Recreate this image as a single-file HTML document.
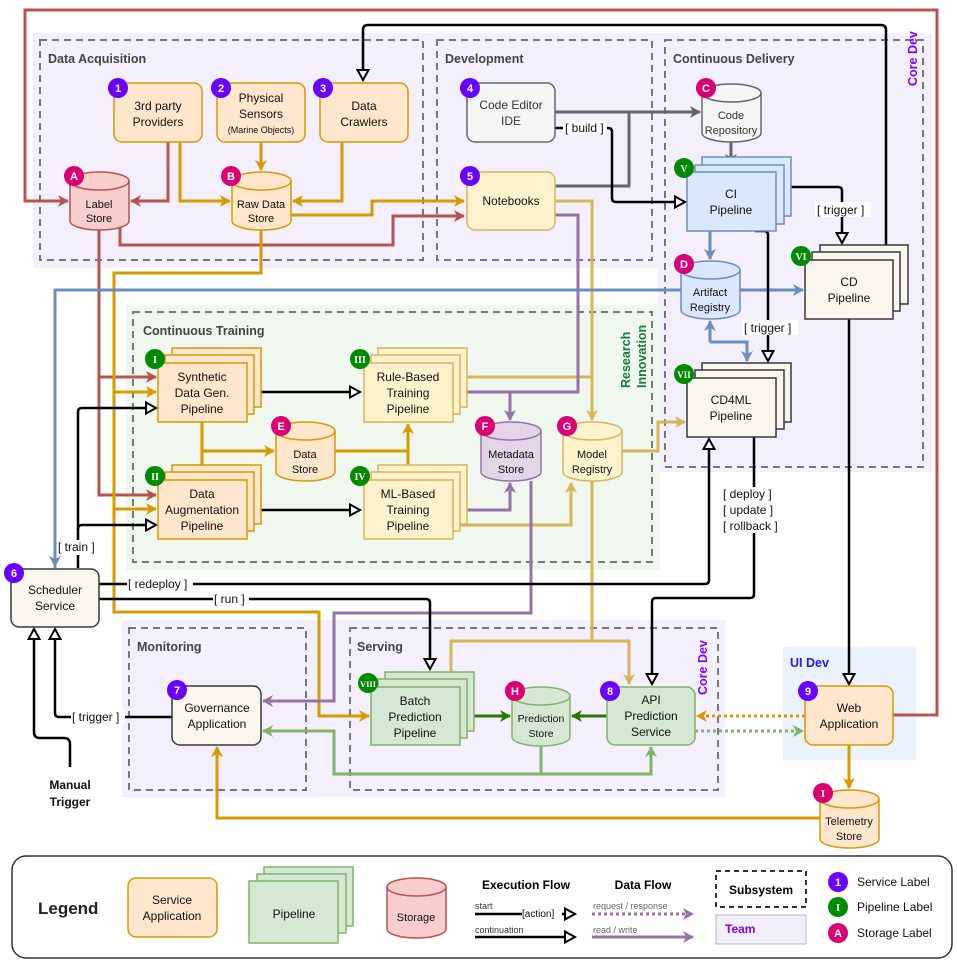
<!DOCTYPE html>
<html><head><meta charset="utf-8"><style>
html,body{margin:0;padding:0;background:#fff}
svg{display:block;font-family:"Liberation Sans",sans-serif}
.t{font-size:12px;fill:#111;text-anchor:middle}
.h{font-size:12.5px;font-weight:bold;fill:#444}
.lb{font-size:12px;fill:#111}
.bw{font-size:11px;font-weight:bold;fill:#fff;text-anchor:middle}
</style></head><body>
<svg width="957" height="964" viewBox="0 0 957 964" xmlns="http://www.w3.org/2000/svg">
<defs>
<marker id="aR" markerWidth="12" markerHeight="12" refX="10" refY="6" orient="auto" markerUnits="userSpaceOnUse"><path d="M0,0 L11,6 L0,12 L3,6 z" fill="#b85450"/></marker>
<marker id="aO" markerWidth="12" markerHeight="12" refX="10" refY="6" orient="auto" markerUnits="userSpaceOnUse"><path d="M0,0 L11,6 L0,12 L3,6 z" fill="#d79b00"/></marker>
<marker id="aY" markerWidth="12" markerHeight="12" refX="10" refY="6" orient="auto" markerUnits="userSpaceOnUse"><path d="M0,0 L11,6 L0,12 L3,6 z" fill="#d6b656"/></marker>
<marker id="aP" markerWidth="12" markerHeight="12" refX="10" refY="6" orient="auto" markerUnits="userSpaceOnUse"><path d="M0,0 L11,6 L0,12 L3,6 z" fill="#9673a6"/></marker>
<marker id="aB" markerWidth="12" markerHeight="12" refX="10" refY="6" orient="auto" markerUnits="userSpaceOnUse"><path d="M0,0 L11,6 L0,12 L3,6 z" fill="#6c8ebf"/></marker>
<marker id="aG" markerWidth="12" markerHeight="12" refX="10" refY="6" orient="auto" markerUnits="userSpaceOnUse"><path d="M0,0 L11,6 L0,12 L3,6 z" fill="#666"/></marker>
<marker id="aD" markerWidth="12" markerHeight="12" refX="10" refY="6" orient="auto" markerUnits="userSpaceOnUse"><path d="M0,0 L11,6 L0,12 L3,6 z" fill="#2d7600"/></marker>
<marker id="aL" markerWidth="12" markerHeight="12" refX="10" refY="6" orient="auto" markerUnits="userSpaceOnUse"><path d="M0,0 L11,6 L0,12 L3,6 z" fill="#82b366"/></marker>
<marker id="aK" markerWidth="14" markerHeight="14" refX="11" refY="7" orient="auto" markerUnits="userSpaceOnUse"><path d="M1,1.5 L11,7 L1,12.5 z" fill="#fff" stroke="#000" stroke-width="2"/></marker>
</defs>

<rect x="33" y="33" width="627" height="235" fill="#f3effc"/>
<rect x="658" y="33" width="274" height="439" fill="#f3effc"/>
<rect x="126" y="305" width="534" height="265" fill="#f0f7ee"/>
<rect x="122" y="620" width="603" height="177" fill="#f3effc"/>
<rect x="783" y="647" width="133" height="113" fill="#eaf3fd"/>

<g fill="none" stroke="#777" stroke-width="2" stroke-dasharray="7,5">
<rect x="40" y="40" width="383" height="220"/>
<rect x="437" y="40" width="215" height="220"/>
<rect x="665" y="40" width="258" height="427"/>
<rect x="133" y="312" width="519" height="250"/>
<rect x="129" y="628" width="177" height="162"/>
<rect x="350" y="628" width="368" height="162"/>
</g>
<text class="h" x="48" y="63">Data Acquisition</text>
<text class="h" x="445" y="63">Development</text>
<text class="h" x="673" y="63">Continuous Delivery</text>
<text class="h" x="143" y="335">Continuous Training</text>
<text class="h" x="137" y="651">Monitoring</text>
<text class="h" x="357" y="651">Serving</text>
<text transform="translate(917,86) rotate(-90)" style="font-size:12.5px;font-weight:bold;fill:#8000ff">Core Dev</text>
<text transform="translate(707,695) rotate(-90)" style="font-size:12.5px;font-weight:bold;fill:#8000ff">Core Dev</text>
<text transform="translate(630,388) rotate(-90)" style="font-size:12.5px;font-weight:bold;fill:#1a7a3a">Research</text>
<text transform="translate(646,388) rotate(-90)" style="font-size:12.5px;font-weight:bold;fill:#1a7a3a">Innovation</text>
<text x="790" y="667" style="font-size:12.5px;font-weight:bold;fill:#1a1aff">UI Dev</text>

<g fill="none" stroke-width="3">
<path d="M891,715 H937 V10 H25 V201 H68" stroke="#b85450" marker-end="url(#aR)"/>
<path d="M168,142 V201 H131" stroke="#b85450" marker-end="url(#aR)"/>
<path d="M99,230 V495 H156" stroke="#b85450" marker-end="url(#aR)"/>
<path d="M99,377 H156" stroke="#b85450" marker-end="url(#aR)"/>
<path d="M120,228 V245 H393 V216 H464" stroke="#b85450" marker-end="url(#aR)"/>
<path d="M180,142 V201 H230" stroke="#d79b00" marker-end="url(#aO)"/>
<path d="M261,142 V170" stroke="#d79b00" marker-end="url(#aO)"/>
<path d="M342,142 V201 H293" stroke="#d79b00" marker-end="url(#aO)"/>
<path d="M291,215 H372 V201 H464" stroke="#d79b00" marker-end="url(#aO)"/>
<path d="M261,230 V273 H114 V612 H319 V716 H369" stroke="#d79b00" marker-end="url(#aO)"/>
<path d="M114,392 H156" stroke="#d79b00" marker-end="url(#aO)"/>
<path d="M114,509 H156" stroke="#d79b00" marker-end="url(#aO)"/>
<path d="M202,422 V480" stroke="#d79b00"/>
<path d="M202,451 H274" stroke="#d79b00" marker-end="url(#aO)"/>
<path d="M335,451 H408" stroke="#d79b00"/>
<path d="M408,451 V424" stroke="#d79b00" marker-end="url(#aO)"/>
<path d="M408,451 V478" stroke="#d79b00" marker-end="url(#aO)"/>
<path d="M849,745 V788" stroke="#d79b00" marker-end="url(#aO)"/>
<path d="M822,818 H217 V747" stroke="#d79b00" marker-end="url(#aO)"/>
<path d="M805,716 H697" stroke="#d79b00" stroke-dasharray="3,3" marker-end="url(#aO)"/>
<path d="M695,731 H803" stroke="#82b366" stroke-dasharray="3,3" marker-end="url(#aL)"/>
<path d="M555,201 H592 V420" stroke="#d6b656" marker-end="url(#aY)"/>
<path d="M452,377 H592" stroke="#d6b656"/>
<path d="M452,525 H571 V483" stroke="#d6b656" marker-end="url(#aY)"/>
<path d="M592,481 V641 H451 V684" stroke="#d6b656" marker-end="url(#aY)"/>
<path d="M592,641 H629 V684" stroke="#d6b656" marker-end="url(#aY)"/>
<path d="M622,451 H658 V422 H685" stroke="#d6b656" marker-end="url(#aY)"/>
<path d="M555,215 H578 V392 H452" stroke="#9673a6"/>
<path d="M510,392 V420" stroke="#9673a6" marker-end="url(#aP)"/>
<path d="M452,510 H510 V483" stroke="#9673a6" marker-end="url(#aP)"/>
<path d="M531,481 V613 H334 V701 H263" stroke="#9673a6" marker-end="url(#aP)"/>
<path d="M555,112 H700" stroke="#666" marker-end="url(#aG)"/>
<path d="M555,186 H629 V112" stroke="#666"/>
<path d="M731,142 V164" stroke="#666" marker-end="url(#aG)"/>
<path d="M710,231 V259" stroke="#6c8ebf" marker-end="url(#aB)"/>
<path d="M55,568 V290 H803" stroke="#6c8ebf" marker-end="url(#aB)"/>
<path d="M55,290 V566" stroke="#6c8ebf" marker-end="url(#aB)"/>
<path d="M710,342 V321" stroke="#6c8ebf" marker-end="url(#aB)"/>
<path d="M710,342 H747 V361" stroke="#6c8ebf" marker-end="url(#aB)"/>
<path d="M460,716 H510" stroke="#2d7600" marker-end="url(#aD)"/>
<path d="M607,716 H572" stroke="#2d7600" marker-end="url(#aD)"/>
<path d="M541,746 V774" stroke="#82b366"/>
<path d="M651,774 H334 V731 H263" stroke="#82b366" marker-end="url(#aL)"/>
<path d="M334,774 H651 V747" stroke="#82b366" marker-end="url(#aL)"/>
</g>
<g fill="none" stroke="#000" stroke-width="2.5">
<path d="M886,245 V30 Q886,25 881,25 H368 Q363,25 363,30 V80" marker-end="url(#aK)"/>
<path d="M555,128 H608 Q612,128 612,132 V198 Q612,202 616,202 H685" marker-end="url(#aK)"/>
<path d="M776,187 H838 Q842,187 842,191 V243" marker-end="url(#aK)"/>
<path d="M755,231 H764 Q768,231 768,235 V361" marker-end="url(#aK)"/>
<path d="M849,319 V684" marker-end="url(#aK)"/>
<path d="M754,437 V594 Q754,598 750,598 H656 Q652,598 652,602 V684" marker-end="url(#aK)"/>
<path d="M99,584 H705 Q709,584 709,580 V439" marker-end="url(#aK)"/>
<path d="M99,599 H426 Q430,599 430,603 V669" marker-end="url(#aK)"/>
<path d="M78,568 V412 Q78,408 82,408 H156" marker-end="url(#aK)"/>
<path d="M78,529 Q78,525 82,525 H156"  marker-end="url(#aK)"/>
<path d="M247,392 H360" marker-end="url(#aK)"/>
<path d="M247,510 H360" marker-end="url(#aK)"/>
<path d="M172,717 H59 Q55,717 55,713 V629" marker-end="url(#aK)"/>
<path d="M70,767 V744 Q70,738 64,738 H40 Q34,738 34,732 V629" marker-end="url(#aK)"/>
</g>
<g class="lb">
<rect x="563" y="120" width="44" height="15" fill="#fff"/><text x="565" y="132">[ build ]</text>
<rect x="815" y="202" width="56" height="15" fill="#fff"/><text x="817" y="214">[ trigger ]</text>
<rect x="742" y="320" width="56" height="15" fill="#fff"/><text x="744" y="332">[ trigger ]</text>
<rect x="722" y="487" width="64" height="46" fill="#fff"/>
<text x="723" y="498">[  deploy  ]</text><text x="723" y="514">[  update  ]</text><text x="723" y="530">[ rollback ]</text>
<rect x="127" y="577" width="66" height="15" fill="#fff"/><text x="128" y="588">[ redeploy ]</text>
<rect x="213" y="592" width="36" height="15" fill="#fff"/><text x="214" y="603">[ run ]</text>
<rect x="57" y="540" width="42" height="15" fill="#fff"/><text x="58" y="551">[ train ]</text>
<rect x="71" y="710" width="54" height="15" fill="#fff"/><text x="72" y="721">[ trigger ]</text>
<text x="70" y="789" style="font-weight:bold;text-anchor:middle">Manual</text>
<text x="70" y="806" style="font-weight:bold;text-anchor:middle">Trigger</text>
</g>

<g stroke-width="1.5">
<rect x="114" y="83" width="88" height="59" rx="8" fill="#ffe6cc" stroke="#d79b00"/>
<rect x="217" y="83" width="88" height="59" rx="8" fill="#ffe6cc" stroke="#d79b00"/>
<rect x="320" y="83" width="88" height="59" rx="8" fill="#ffe6cc" stroke="#d79b00"/>
<rect x="467" y="83" width="88" height="59" rx="8" fill="#f5f5f5" stroke="#666"/>
<rect x="467" y="172" width="88" height="58" rx="8" fill="#fff2cc" stroke="#d6b656"/>
<rect x="11" y="569" width="88" height="58" rx="8" fill="#f9f7ed" stroke="#36393d"/>
<rect x="172" y="686" width="89" height="59" rx="8" fill="#f9f7ed" stroke="#36393d"/>
<rect x="607" y="687" width="88" height="58" rx="8" fill="#d5e8d4" stroke="#82b366"/>
<rect x="805" y="686" width="88" height="59" rx="8" fill="#ffe6cc" stroke="#d79b00"/>
</g>
<text class="t" x="158" y="110">3rd party</text><text class="t" x="158" y="126">Providers</text>
<text class="t" x="261" y="102">Physical</text><text class="t" x="261" y="118">Sensors</text>
<text class="t" x="261" y="133" style="font-size:9px">(Marine Objects)</text>
<text class="t" x="364" y="110">Data</text><text class="t" x="364" y="126">Crawlers</text>
<text class="t" x="511" y="109" style="fill:#333">Code Editor</text><text class="t" x="511" y="125" style="fill:#333">IDE</text>
<text class="t" x="511" y="205">Notebooks</text>
<text class="t" x="55" y="594">Scheduler</text><text class="t" x="55" y="610">Service</text>
<text class="t" x="217" y="712">Governance</text><text class="t" x="217" y="728">Application</text>
<text class="t" x="651" y="704">API</text><text class="t" x="651" y="720">Prediction</text><text class="t" x="651" y="736">Service</text>
<text class="t" x="849" y="712">Web</text><text class="t" x="849" y="728">Application</text>

<g stroke-width="1.5">
<g fill="#ffe6cc" stroke="#d79b00">
<rect x="172" y="348" width="89" height="59"/><rect x="165" y="355" width="89" height="59"/><rect x="158" y="363" width="89" height="59"/>
<rect x="172" y="465" width="89" height="59"/><rect x="165" y="472" width="89" height="59"/><rect x="158" y="480" width="89" height="59"/>
</g>
<g fill="#fff2cc" stroke="#d6b656">
<rect x="378" y="348" width="89" height="59"/><rect x="371" y="355" width="89" height="59"/><rect x="364" y="363" width="89" height="59"/>
<rect x="378" y="465" width="89" height="59"/><rect x="371" y="472" width="89" height="59"/><rect x="364" y="480" width="89" height="59"/>
</g>
<g fill="#dae8fc" stroke="#6c8ebf">
<rect x="702" y="157" width="89" height="59"/><rect x="695" y="165" width="89" height="59"/><rect x="687" y="172" width="89" height="59"/>
</g>
<g fill="#f9f7ed" stroke="#36393d">
<rect x="820" y="245" width="88" height="59"/><rect x="812" y="252" width="88" height="59"/><rect x="805" y="260" width="88" height="59"/>
<rect x="702" y="363" width="89" height="59"/><rect x="695" y="370" width="89" height="59"/><rect x="687" y="378" width="89" height="59"/>
</g>
<g fill="#d5e8d4" stroke="#82b366">
<rect x="385" y="672" width="89" height="59"/><rect x="378" y="679" width="89" height="59"/><rect x="371" y="687" width="89" height="58"/>
</g>
</g>
<text class="t" x="202" y="381">Synthetic</text><text class="t" x="202" y="397">Data Gen.</text><text class="t" x="202" y="413">Pipeline</text>
<text class="t" x="202" y="498">Data</text><text class="t" x="202" y="514">Augmentation</text><text class="t" x="202" y="530">Pipeline</text>
<text class="t" x="408" y="381">Rule-Based</text><text class="t" x="408" y="397">Training</text><text class="t" x="408" y="413">Pipeline</text>
<text class="t" x="408" y="498">ML-Based</text><text class="t" x="408" y="514">Training</text><text class="t" x="408" y="530">Pipeline</text>
<text class="t" x="731" y="198">CI</text><text class="t" x="731" y="214">Pipeline</text>
<text class="t" x="849" y="286">CD</text><text class="t" x="849" y="302">Pipeline</text>
<text class="t" x="731" y="404">CD4ML</text><text class="t" x="731" y="420">Pipeline</text>
<text class="t" x="415" y="705">Batch</text><text class="t" x="415" y="721">Prediction</text><text class="t" x="415" y="737">Pipeline</text>

<g stroke-width="1.5">
<g fill="#f8cecc" stroke="#b85450"><path d="M70,181 a29.5,9 0 0 1 59,0 v40 a29.5,9 0 0 1 -59,0 z"/><path d="M70,181 a29.5,9 0 0 0 59,0" fill="none"/></g>
<g fill="#ffe6cc" stroke="#d79b00"><path d="M232,181 a29.5,9 0 0 1 59,0 v40 a29.5,9 0 0 1 -59,0 z"/><path d="M232,181 a29.5,9 0 0 0 59,0" fill="none"/></g>
<g fill="#f5f5f5" stroke="#666"><path d="M702,93 a29.5,9 0 0 1 59,0 v40 a29.5,9 0 0 1 -59,0 z"/><path d="M702,93 a29.5,9 0 0 0 59,0" fill="none"/></g>
<g fill="#dae8fc" stroke="#6c8ebf"><path d="M681,270 a29.5,9 0 0 1 59,0 v40 a29.5,9 0 0 1 -59,0 z"/><path d="M681,270 a29.5,9 0 0 0 59,0" fill="none"/></g>
<g fill="#ffe6cc" stroke="#d79b00"><path d="M276,431 a29.5,9 0 0 1 59,0 v41 a29.5,9 0 0 1 -59,0 z"/><path d="M276,431 a29.5,9 0 0 0 59,0" fill="none"/></g>
<g fill="#e1d5e7" stroke="#9673a6"><path d="M481,431 a30,9 0 0 1 60,0 v41 a30,9 0 0 1 -60,0 z"/><path d="M481,431 a30,9 0 0 0 60,0" fill="none"/></g>
<g fill="#fff2cc" stroke="#d6b656"><path d="M563,431 a29.5,9 0 0 1 59,0 v41 a29.5,9 0 0 1 -59,0 z"/><path d="M563,431 a29.5,9 0 0 0 59,0" fill="none"/></g>
<g fill="#d5e8d4" stroke="#82b366"><path d="M512,696 a29,9 0 0 1 58,0 v41 a29,9 0 0 1 -58,0 z"/><path d="M512,696 a29,9 0 0 0 58,0" fill="none"/></g>
<g fill="#ffe6cc" stroke="#d79b00"><path d="M820,799 a29.5,9 0 0 1 59,0 v40 a29.5,9 0 0 1 -59,0 z"/><path d="M820,799 a29.5,9 0 0 0 59,0" fill="none"/></g>
</g>
<g style="font-size:11px;fill:#111;text-anchor:middle">
<text x="99" y="208">Label</text><text x="99" y="222">Store</text>
<text x="261" y="208">Raw Data</text><text x="261" y="222">Store</text>
<text x="731" y="119" style="fill:#333">Code</text><text x="731" y="134" style="fill:#333">Repository</text>
<text x="710" y="296">Artifact</text><text x="710" y="311">Registry</text>
<text x="305" y="458">Data</text><text x="305" y="473">Store</text>
<text x="511" y="458">Metadata</text><text x="511" y="473">Store</text>
<text x="592" y="458">Model</text><text x="592" y="473">Registry</text>
<text x="541" y="722" style="font-size:10.5px">Prediction</text><text x="541" y="737" style="font-size:10.5px">Store</text>
<text x="849" y="825">Telemetry</text><text x="849" y="840">Store</text>
</g>

<g>
<g fill="#6a00ff">
<circle cx="118" cy="88" r="10"/><circle cx="221" cy="88" r="10"/><circle cx="323" cy="88" r="10"/>
<circle cx="470" cy="88" r="10"/><circle cx="470" cy="176" r="10"/><circle cx="14" cy="573" r="10"/>
<circle cx="177" cy="690" r="10"/><circle cx="610" cy="691" r="10"/><circle cx="808" cy="691" r="10"/>
</g>
<g fill="#d80073">
<circle cx="74" cy="176" r="10"/><circle cx="231" cy="176" r="10"/><circle cx="706" cy="88" r="10"/>
<circle cx="684" cy="264" r="10"/><circle cx="281" cy="426" r="10"/><circle cx="485" cy="426" r="10"/>
<circle cx="567" cy="426" r="10"/><circle cx="515" cy="691" r="10"/><circle cx="823" cy="793" r="10"/>
</g>
<g fill="#008a00">
<circle cx="155" cy="359" r="10"/><circle cx="155" cy="476" r="10"/><circle cx="360" cy="359" r="10"/>
<circle cx="360" cy="476" r="10"/><circle cx="684" cy="168" r="10"/><circle cx="801" cy="256" r="10"/>
<circle cx="684" cy="374" r="10"/><circle cx="368" cy="683" r="10"/>
</g>
</g>
<g class="bw">
<text x="118" y="92">1</text><text x="221" y="92">2</text><text x="323" y="92">3</text>
<text x="470" y="92">4</text><text x="470" y="180">5</text><text x="14" y="577">6</text>
<text x="177" y="694">7</text><text x="610" y="695">8</text><text x="808" y="695">9</text>
<text x="74" y="180">A</text><text x="231" y="180">B</text><text x="706" y="92">C</text>
<text x="684" y="268">D</text><text x="281" y="430">E</text><text x="485" y="430">F</text>
<text x="567" y="430">G</text><text x="515" y="695">H</text><text x="823" y="797" style="font-family:'Liberation Serif',serif">I</text>
<g style="font-family:'Liberation Serif',serif;font-size:10px">
<text x="155" y="363">I</text><text x="155" y="480">II</text><text x="360" y="363">III</text>
<text x="360" y="480">IV</text><text x="684" y="172">V</text><text x="801" y="260">VI</text>
<text x="684" y="378" style="font-size:9px">VII</text><text x="368" y="687" style="font-size:8.5px">VIII</text>
</g>
</g>

<rect x="12" y="856" width="940" height="102" rx="14" fill="#fff" stroke="#333" stroke-width="1.5"/>
<text x="38" y="914" style="font-size:17px;font-weight:bold;fill:#222">Legend</text>
<rect x="128" y="878" width="89" height="59" rx="8" fill="#ffe6cc" stroke="#d79b00" stroke-width="1.5"/>
<text class="t" x="172" y="904">Service</text><text class="t" x="172" y="920">Application</text>
<g fill="#d5e8d4" stroke="#82b366" stroke-width="1.5">
<rect x="264" y="867" width="89" height="59"/><rect x="257" y="874" width="89" height="59"/><rect x="249" y="881" width="89" height="62"/>
</g>
<text class="t" x="294" y="918">Pipeline</text>
<g fill="#f8cecc" stroke="#b85450" stroke-width="1.5"><path d="M387,887 a29.5,9 0 0 1 59,0 v42 a29.5,9 0 0 1 -59,0 z"/><path d="M387,887 a29.5,9 0 0 0 59,0" fill="none"/></g>
<text class="t" x="416" y="921" style="font-size:11px">Storage</text>
<text x="526" y="889" style="font-size:12px;font-weight:bold;text-anchor:middle">Execution Flow</text>
<text x="643" y="889" style="font-size:12px;font-weight:bold;text-anchor:middle">Data Flow</text>
<text x="475" y="909" style="font-size:9px;fill:#333">start</text>
<text x="475" y="933" style="font-size:9px;fill:#333">continuation</text>
<text x="522" y="917" style="font-size:10px;fill:#111">[action]</text>
<path d="M475,914 H522" stroke="#000" stroke-width="2.5"/>
<path d="M562,914 H575" stroke="#000" stroke-width="2.5" marker-end="url(#aK)"/>
<path d="M475,937 H575" stroke="#000" stroke-width="2.5" marker-end="url(#aK)"/>
<text x="593" y="909" style="font-size:9px;fill:#666">request / response</text>
<text x="593" y="933" style="font-size:9px;fill:#666">read / write</text>
<path d="M592,914 H693" stroke="#9673a6" stroke-width="3" stroke-dasharray="3,3" marker-end="url(#aP)"/>
<path d="M592,937 H693" stroke="#9673a6" stroke-width="3" marker-end="url(#aP)"/>
<rect x="716" y="871" width="90" height="36" fill="none" stroke="#333" stroke-width="2" stroke-dasharray="5,4"/>
<text x="761" y="894" style="font-size:12px;font-weight:bold;text-anchor:middle">Subsystem</text>
<rect x="716" y="915" width="90" height="29" fill="#f3effa" stroke="#bbb"/>
<text x="725" y="933" style="font-size:12px;font-weight:bold;fill:#8000ff">Team</text>
<circle cx="838" cy="882" r="10" fill="#6a00ff"/><text class="bw" x="838" y="886">1</text>
<circle cx="838" cy="907" r="10" fill="#008a00"/><text class="bw" x="838" y="911" style="font-family:'Liberation Serif',serif">I</text>
<circle cx="838" cy="933" r="10" fill="#d80073"/><text class="bw" x="838" y="937">A</text>
<text x="857" y="886" class="lb">Service Label</text>
<text x="857" y="911" class="lb">Pipeline Label</text>
<text x="857" y="937" class="lb">Storage Label</text>
</svg>
</body></html>
